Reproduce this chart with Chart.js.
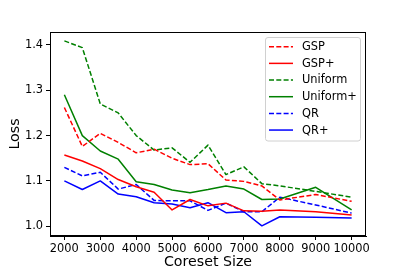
<!DOCTYPE html>
<html>
<head>
<meta charset="utf-8">
<script src="https://cdn.jsdelivr.net/npm/chart.js@4.4.0/dist/chart.umd.min.js"></script>
<style>
  html, body { margin: 0; padding: 0; background: #fff; }
  #wrap { width: 407px; height: 271px; }
</style>
</head>
<body>
<div id="wrap"><canvas id="lossChart" width="407" height="271"></canvas></div>
<script>
// values
const coresetSizes = [2000, 2500, 3000, 3500, 4000, 4500, 5000, 5500, 6000, 6500, 7000, 7500, 8000, 9000, 10000];
const gsp         = [1.262, 1.176, 1.205, 1.185, 1.162, 1.170, 1.150, 1.136, 1.138, 1.102, 1.099, 1.089, 1.058, 1.070, 1.055];
const gspPlus     = [1.157, 1.144, 1.127, 1.103, 1.087, 1.075, 1.036, 1.059, 1.045, 1.051, 1.034, 1.033, 1.036, 1.032, 1.025];
const uniform     = [1.409, 1.394, 1.270, 1.250, 1.200, 1.168, 1.173, 1.141, 1.179, 1.114, 1.131, 1.094, 1.089, 1.077, 1.064];
const uniformPlus = [1.290, 1.200, 1.166, 1.148, 1.098, 1.092, 1.080, 1.074, 1.081, 1.089, 1.082, 1.059, 1.060, 1.086, 1.036];
const qr          = [1.130, 1.111, 1.119, 1.082, 1.092, 1.057, 1.056, 1.056, 1.035, 1.051, 1.032, 1.032, 1.064, 1.047, 1.029];
const qrPlus      = [1.100, 1.081, 1.100, 1.071, 1.065, 1.052, 1.049, 1.041, 1.052, 1.030, 1.032, 1.001, 1.021, 1.020, 1.018];

const seriesNames = ['GSP', 'GSP+', 'Uniform', 'Uniform+', 'QR', 'QR+'];
const xTicks = [2000, 3000, 4000, 5000, 6000, 7000, 8000, 9000, 10000];
const yTicks = [1.0, 1.1, 1.2, 1.3, 1.4];

const FONT = 'DejaVu Sans';
const DASH = [5, 2.3];

function points(vals) {
    return coresetSizes.map((x, i) => ({ x: x, y: vals[i] }));
}

function line(label, vals, color, dashed) {
    return {
        label: label,
        data: points(vals),
        borderColor: color,
        backgroundColor: color,
        borderWidth: 1.5,
        borderDash: dashed ? DASH : [],
        borderJoinStyle: 'round',
        pointRadius: 0,
        tension: 0,
        fill: false
    };
}

// matplotlib-like frame + legend inside the axes
const framePlugin = {
    id: 'frameAndLegend',
    afterDatasetsDraw(chart) {
        const ctx = chart.ctx;
        const a = chart.chartArea;
        ctx.save();
        ctx.strokeStyle = '#000';
        ctx.lineWidth = 1;
        ctx.strokeRect(Math.round(a.left) + 0.5, Math.round(a.top) + 0.5,
            Math.round(a.right - a.left) - 1, Math.round(a.bottom - a.top) - 1);

        // legend box
        const bx = 265.5, by = 37.5, bw = 95, bh = 103.5, r = 2.5;
        ctx.beginPath();
        ctx.moveTo(bx + r, by);
        ctx.lineTo(bx + bw - r, by);
        ctx.quadraticCurveTo(bx + bw, by, bx + bw, by + r);
        ctx.lineTo(bx + bw, by + bh - r);
        ctx.quadraticCurveTo(bx + bw, by + bh, bx + bw - r, by + bh);
        ctx.lineTo(bx + r, by + bh);
        ctx.quadraticCurveTo(bx, by + bh, bx, by + bh - r);
        ctx.lineTo(bx, by + r);
        ctx.quadraticCurveTo(bx, by, bx + r, by);
        ctx.closePath();
        ctx.fillStyle = 'rgba(255,255,255,0.8)';
        ctx.fill();
        ctx.strokeStyle = '#d0d0d0';
        ctx.lineWidth = 1;
        ctx.stroke();

        ctx.font = '11.4px "' + FONT + '"';
        ctx.textBaseline = 'middle';
        ctx.textAlign = 'left';
        chart.data.datasets.forEach((ds, i) => {
            const y = 46.7 + i * 16.67;
            ctx.beginPath();
            ctx.setLineDash(ds.borderDash || []);
            ctx.strokeStyle = ds.borderColor;
            ctx.lineWidth = ds.borderWidth;
            ctx.moveTo(269, y);
            ctx.lineTo(293, y);
            ctx.stroke();
            ctx.setLineDash([]);
            ctx.fillStyle = '#000';
            ctx.fillText(ds.label, 302, y + 0.5);
        });
        ctx.restore();
    }
};

const ctx = document.getElementById('lossChart').getContext('2d');
new Chart(ctx, {
    type: 'line',
    data: {
        datasets: [
            line(seriesNames[0], gsp, '#ff0000', true),
            line(seriesNames[1], gspPlus, '#ff0000', false),
            line(seriesNames[2], uniform, '#008000', true),
            line(seriesNames[3], uniformPlus, '#008000', false),
            line(seriesNames[4], qr, '#0000ff', true),
            line(seriesNames[5], qrPlus, '#0000ff', false)
        ]
    },
    options: {
        responsive: false,
        animation: false,
        devicePixelRatio: 1,
        layout: { padding: { left: 0, top: 32, right: 41, bottom: 0 } },
        plugins: {
            legend: { display: false },
            tooltip: { enabled: false }
        },
        scales: {
            x: {
                type: 'linear',
                min: 1600,
                max: 10400,
                afterFit(scale) { scale.height = 35; },
                afterBuildTicks(scale) { scale.ticks = xTicks.map(v => ({ value: v })); },
                grid: { drawOnChartArea: false, drawTicks: true, tickLength: 4, color: '#000' },
                border: { display: true, color: '#000' },
                ticks: {
                    color: '#000',
                    padding: 2,
                    maxRotation: 0,
                    font: { family: FONT, size: 11.4 },
                    callback: v => String(v)
                },
                title: {
                    display: true,
                    text: 'Coreset Size',
                    color: '#000',
                    padding: { top: 0, bottom: 0 },
                    font: { family: FONT, size: 14.2 }
                }
            },
            y: {
                type: 'linear',
                min: 0.9785,
                max: 1.4285,
                afterFit(scale) { scale.width = 50; },
                afterBuildTicks(scale) { scale.ticks = yTicks.map(v => ({ value: v })); },
                grid: { drawOnChartArea: false, drawTicks: true, tickLength: 4, color: '#000' },
                border: { display: true, color: '#000' },
                ticks: {
                    color: '#000',
                    padding: 3,
                    font: { family: FONT, size: 11.4 },
                    callback: v => Number(v).toFixed(1)
                },
                title: {
                    display: true,
                    text: 'Loss',
                    color: '#000',
                    padding: { top: 7, bottom: 0 },
                    font: { family: FONT, size: 14.2 }
                }
            }
        }
    },
    plugins: [framePlugin]
});
</script>
</body>
</html>
